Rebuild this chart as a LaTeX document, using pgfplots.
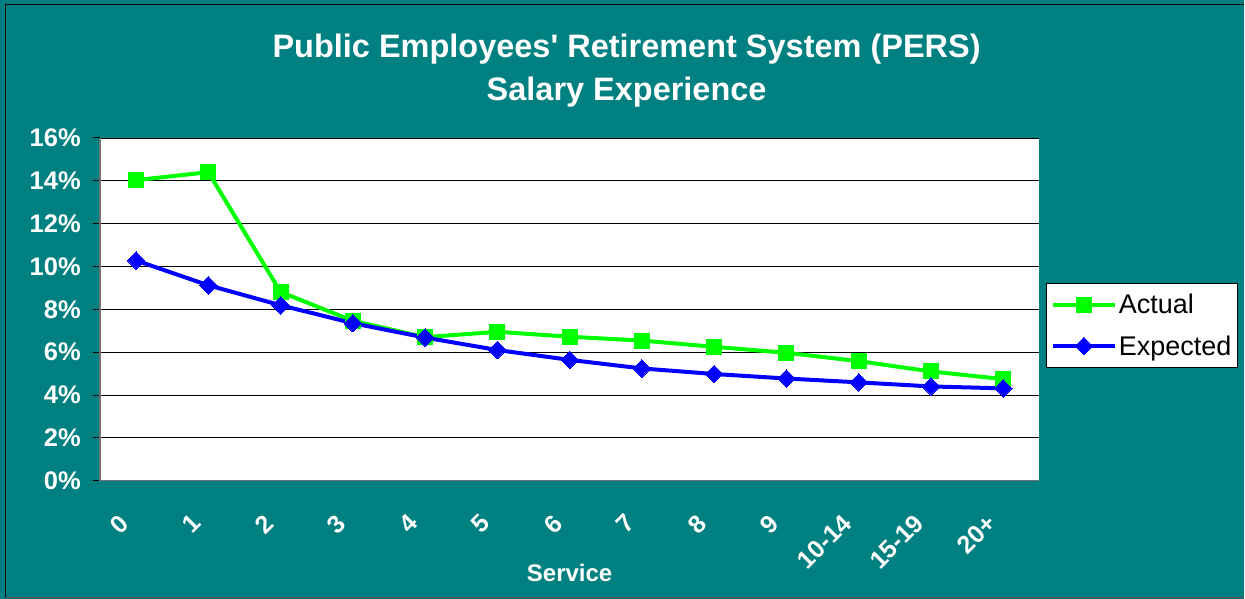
\documentclass[border=0pt]{standalone}
\usepackage{pgfplots}
\pgfplotsset{compat=1.18}
\usepackage{fontspec}
\setmainfont{Liberation Sans}
\definecolor{bgteal}{HTML}{008080}
\definecolor{actgreen}{HTML}{00FF00}
\definecolor{expblue}{HTML}{0000FF}
\begin{document}
\begin{tikzpicture}[x=1pt,y=1pt]
\fill[bgteal] (0,0) rectangle (1245,599);
\draw[black,line width=1.5pt] (5.5,1) -- (5.5,594.5) -- (1245,594.5);
\draw[black!70,line width=1pt] (5.5,1) -- (1245,1);
\node[font=\fontsize{32.5}{39}\selectfont\bfseries,text=white] at (627,549.5) {Public Employees\textquotesingle\ Retirement System (PERS)};
\node[font=\fontsize{32.5}{39}\selectfont\bfseries,text=white] at (627,506.5) {Salary Experience};
\begin{axis}[
  at={(100pt,118pt)}, anchor=south west,
  scale only axis, width=940pt, height=343pt,
  xmin=-0.5, xmax=12.5, ymin=0, ymax=16,
  axis background/.style={fill=white},
  axis line style={draw=black!55,line width=1.2pt},
  axis x line*=bottom, axis y line*=left,
  ytick={0,2,...,16},
  yticklabels={0\%,2\%,4\%,6\%,8\%,10\%,12\%,14\%,16\%},
  ymajorgrids, grid style={black,line width=0.8pt},
  xtick={0,...,12},
  xticklabels={0,1,2,3,4,5,6,7,8,9,10-14,15-19,20+},
  x tick style={draw=none},
  extra x ticks={-0.5,0.5,...,12.5},
  extra x tick labels={},
  extra x tick style={grid=none, tick style={draw=black,line width=1pt}, major tick length=7pt},
  tick align=outside, major tick length=7pt,
  y tick style={draw=black,line width=1pt},
  yticklabel style={font=\fontsize{25.5}{30}\selectfont\bfseries, text=white, inner sep=0pt, anchor=east, xshift=-12pt},
  xticklabel style={font=\fontsize{25}{30}\selectfont\bfseries, text=white, inner sep=0pt, xshift=-18pt, yshift=-25pt, rotate=45, anchor=north east},
  xlabel={Service},
  xlabel style={font=\fontsize{24}{29}\selectfont\bfseries, text=white, at={(axis description cs:0.5,0)}, anchor=center, yshift=-92pt},
  clip=false,
  legend style={at={(rel axis cs:1.0074,0.577)}, anchor=north west, draw=black, fill=white, line width=1pt,
    font=\fontsize{27}{31}\selectfont, inner xsep=4pt, inner ysep=9pt, row sep=16pt},
  legend cell align=left,
  legend image code/.code={\draw[#1,mark repeat=2,mark phase=2] plot coordinates {(0pt,0pt) (31pt,0pt) (62pt,0pt)};},
]
\addplot[actgreen, line width=4pt, mark=square*, mark size=7.5pt, mark options={fill=actgreen,draw=actgreen,line width=0pt}]
 coordinates {(0,14.03) (1,14.4) (2,8.81) (3,7.46) (4,6.7) (5,6.95) (6,6.72) (7,6.54) (8,6.25) (9,5.97) (10,5.58) (11,5.1) (12,4.74)};
\addlegendentry{Actual}
\addplot[expblue, line width=4pt, mark=square*, mark size=6.2pt, mark options={rotate=45,fill=expblue,draw=expblue,line width=0pt}]
 coordinates {(0,10.28) (1,9.12) (2,8.19) (3,7.35) (4,6.68) (5,6.1) (6,5.64) (7,5.24) (8,4.98) (9,4.77) (10,4.59) (11,4.4) (12,4.31)};
\addlegendentry{Expected}
\end{axis}
\end{tikzpicture}
\end{document}
